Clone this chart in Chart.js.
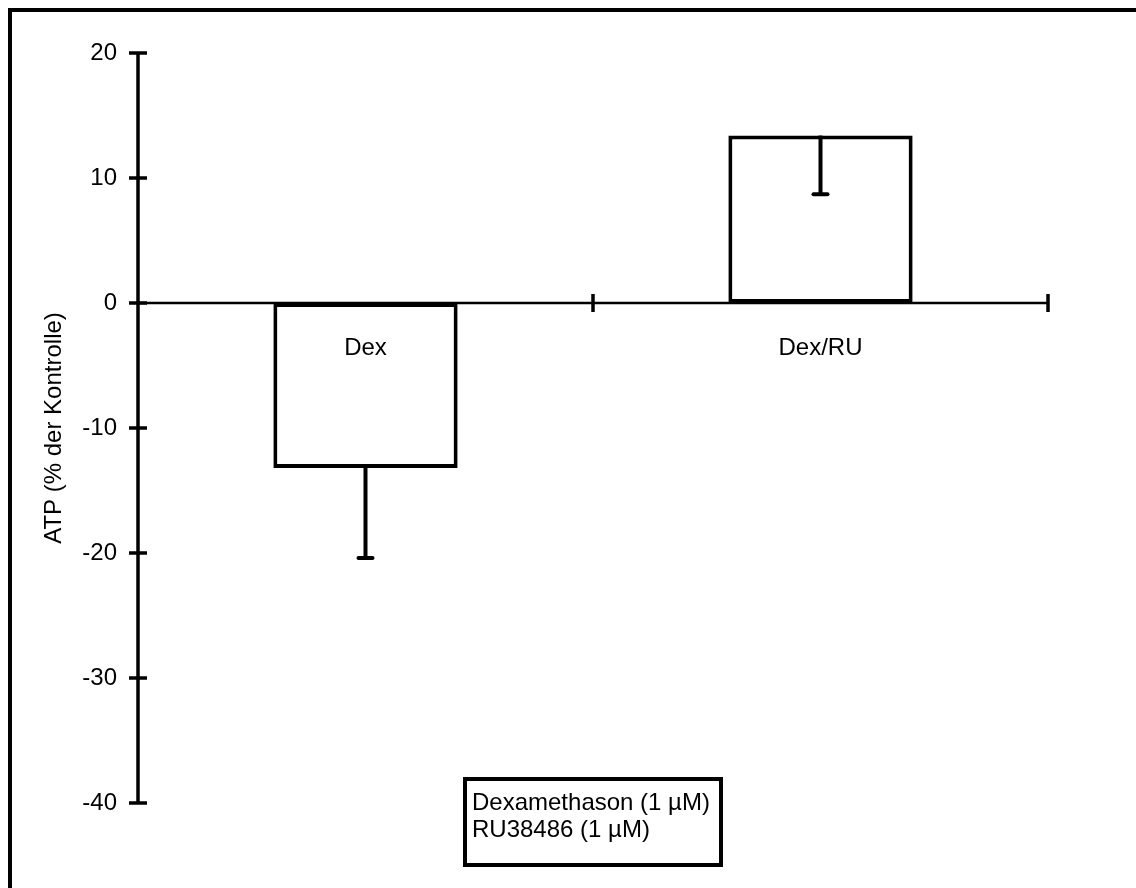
<!DOCTYPE html>
<html>
<head>
<meta charset="utf-8">
<script src="https://cdn.jsdelivr.net/npm/chart.js@4"></script>
<style>
  html, body { margin: 0; padding: 0; background: #ffffff; }
  #wrap { position: relative; width: 1136px; height: 888px; }
</style>
</head>
<body>
<div id="wrap"><canvas id="c"></canvas></div>
<script>
// ---- data ----
const categories = ['Dex', 'Dex/RU'];
const atpValues = [-13.2, 13.4];          // mean ATP change (% der Kontrolle)
const errorEnds = [-20.4, 8.7];           // end value of each error bar
const yTickValues = [-40, -30, -20, -10, 0, 10, 20];
const yAxisTitle = 'ATP (% der Kontrolle)';
const legendLines = ['Dexamethason (1 µM)', 'RU38486 (1 µM)'];

const FONT = "'Liberation Sans', Arial, sans-serif";
const FS = 24;

const framePlugin = {
  id: 'frame',
  beforeDraw(chart) {
    const ctx = chart.ctx;
    ctx.save();
    ctx.fillStyle = '#ffffff';
    ctx.fillRect(0, 0, chart.width, chart.height);
    ctx.restore();
  },
  afterDraw(chart) {
    const ctx = chart.ctx;
    ctx.save();
    ctx.strokeStyle = '#000';
    ctx.lineWidth = 4;
    ctx.beginPath();
    ctx.moveTo(10, chart.height + 5);
    ctx.lineTo(10, 10);
    ctx.lineTo(chart.width + 5, 10);
    ctx.stroke();
    // legend box
    ctx.lineWidth = 4;
    ctx.strokeRect(465, 779, 256, 86);
    ctx.fillStyle = '#000';
    ctx.font = FS + 'px ' + FONT;
    ctx.textBaseline = 'alphabetic';
    ctx.textAlign = 'left';
    legendLines.forEach((t, i) => ctx.fillText(t, 472, 810 + i * 26.5));
    ctx.restore();
  }
};

const axesPlugin = {
  id: 'axesErr',
  afterDatasetsDraw(chart) {
    const ctx = chart.ctx;
    const xs = chart.scales.x, ys = chart.scales.y;
    const area = chart.chartArea;
    const y0 = ys.getPixelForValue(0);
    ctx.save();
    ctx.strokeStyle = '#000';
    // x axis
    ctx.lineWidth = 2.5;
    ctx.beginPath();
    ctx.moveTo(area.left, y0);
    ctx.lineTo(area.right, y0);
    ctx.stroke();
    ctx.lineWidth = 3.5;
    for (let i = 0; i < categories.length; i++) {
      const px = xs.getPixelForValue(i + 0.5);
      ctx.beginPath();
      ctx.moveTo(px, y0 - 9);
      ctx.lineTo(px, y0 + 9);
      ctx.stroke();
    }
    // y axis
    ctx.lineWidth = 3.5;
    ctx.beginPath();
    ctx.moveTo(area.left, ys.getPixelForValue(yTickValues[yTickValues.length - 1]));
    ctx.lineTo(area.left, ys.getPixelForValue(yTickValues[0]));
    ctx.stroke();
    yTickValues.forEach(v => {
      const py = ys.getPixelForValue(v);
      ctx.beginPath();
      ctx.moveTo(area.left - 9, py);
      ctx.lineTo(area.left + 9, py);
      ctx.stroke();
    });
    // error bars
    ctx.lineWidth = 4;
    atpValues.forEach((v, i) => {
      const px = xs.getPixelForValue(i);
      const pA = ys.getPixelForValue(v);
      const pB = ys.getPixelForValue(errorEnds[i]);
      ctx.lineCap = 'butt';
      ctx.beginPath();
      ctx.moveTo(px, pA);
      ctx.lineTo(px, pB);
      ctx.stroke();
      ctx.lineCap = 'round';
      ctx.beginPath();
      ctx.moveTo(px - 7, pB);
      ctx.lineTo(px + 7, pB);
      ctx.stroke();
    });
    ctx.restore();
  }
};

new Chart(document.getElementById('c'), {
  type: 'bar',
  data: {
    labels: categories,
    datasets: [{
      data: atpValues,
      backgroundColor: '#ffffff',
      borderColor: '#000000',
      borderWidth: 4,
      borderSkipped: false,
      barPercentage: 0.405,
      categoryPercentage: 1.0
    }]
  },
  options: {
    responsive: true,
    maintainAspectRatio: false,
    animation: false,
    layout: { padding: { left: 10, top: 53, right: 88, bottom: 85 } },
    plugins: { legend: { display: false }, tooltip: { enabled: false } },
    scales: {
      x: {
        type: 'category',
        position: { y: 0 },
        offset: true,
        grid: { display: false, drawTicks: false },
        border: { display: false },
        ticks: { z: 1, color: '#000', font: { family: FONT, size: FS }, padding: 31, maxRotation: 0 }
      },
      y: {
        min: -40, max: 20,
        grid: { display: false, drawTicks: false },
        border: { display: false },
        ticks: { stepSize: 10, color: '#000', font: { family: FONT, size: FS }, padding: 21 },
        title: { display: true, text: yAxisTitle, color: '#000', font: { family: FONT, size: FS }, padding: { top: 30, bottom: 0 } },
        afterFit(scale) { scale.width = 128; }
      }
    }
  },
  plugins: [framePlugin, axesPlugin]
});
</script>
</body>
</html>
